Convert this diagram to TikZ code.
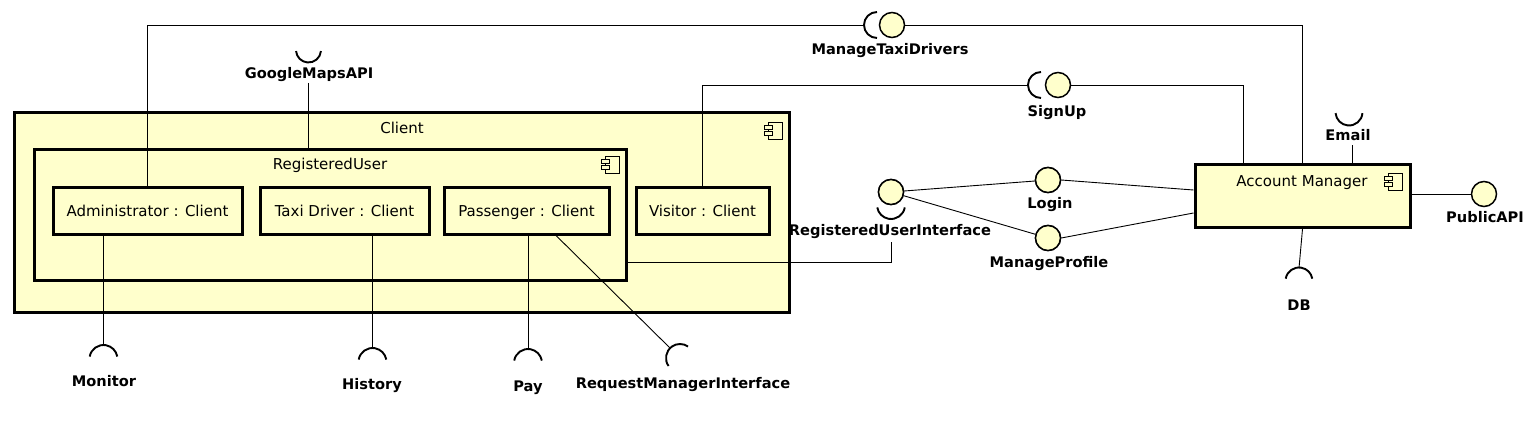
\documentclass[tikz,border=0pt]{standalone}
\usepackage{fontspec}
\setmainfont{DejaVu Sans}
\definecolor{umlfill}{HTML}{FFFFCC}
\tikzset{
  comp/.style={draw, line width=3pt, fill=umlfill, inner sep=0pt},
  ball/.style={circle, draw, line width=1.5pt, fill=umlfill, minimum size=25pt, inner sep=0pt},
  lbl/.style={font=\fontsize{14.6}{16}\selectfont\bfseries, inner sep=0pt, text height=10.7pt, text depth=0pt},
  txt/.style={font=\fontsize{15}{17}\selectfont, inner sep=0pt, text height=11pt, text depth=0pt},
  wire/.style={line width=0.9pt},
  sock/.style={line width=1.9pt},
  compicon/.pic={
    \draw[fill=umlfill, line width=0.9pt] (-14,0) rectangle (0,17);
    \draw[fill=umlfill, line width=0.9pt] (-18,3.5) rectangle (-10,7.5);
    \draw[fill=umlfill, line width=0.9pt] (-18,9.5) rectangle (-10,13.5);
  }
}
\begin{document}
\begin{tikzpicture}[x=1pt, y=-1pt]
\useasboundingbox (0,0) rectangle (1536,433);
% components
\node[comp, minimum width=775, minimum height=199] (client) at (401.5,212.5) {};
\node[txt] (clientL) at (402,128) {Client};
\pic at (782,122) {compicon};
\node[comp, minimum width=592, minimum height=131] (reguser) at (330,214.5) {};
\node[txt] (reguserL) at (330,164) {RegisteredUser};
\pic at (619,156) {compicon};
\node[comp, txt, minimum width=189, minimum height=47] (admin) at (147.5,210.5) {Administrator : Client};
\node[comp, txt, minimum width=169, minimum height=47] (taxi) at (344.5,210.5) {Taxi Driver : Client};
\node[comp, txt, minimum width=165, minimum height=47] (pass) at (526.5,210.5) {Passenger : Client};
\node[comp, txt, minimum width=133, minimum height=47] (visitor) at (702.5,210.5) {Visitor : Client};
\node[comp, minimum width=215, minimum height=63] (acct) at (1302.5,196) {};
\node[txt] (acctL) at (1302,181) {Account Manager};
\pic at (1402,173) {compicon};

% provided interfaces (balls)
\node[ball] (mtd) at (892,25) {};
\node[lbl] (mtdL) at (890,49) {ManageTaxiDrivers};
\node[ball] (su) at (1058,85) {};
\node[lbl] (suL) at (1057,111) {SignUp};
\node[ball] (rui) at (891,192) {};
\node[lbl] (ruiL) at (890,230) {RegisteredUserInterface};
\node[ball] (login) at (1048,180) {};
\node[lbl] (loginL) at (1050,203) {Login};
\node[ball] (mp) at (1048,238) {};
\node[lbl] (mpL) at (1049,262) {ManageProfile};
\node[ball] (pub) at (1484,194) {};
\node[lbl] (pubL) at (1485,217) {PublicAPI};

% required interface labels
\node[lbl] (emailL) at (1348,135) {Email};
\node[lbl] (dbL) at (1299,305) {DB};
\node[lbl] (gmL) at (309,73) {GoogleMapsAPI};
\node[lbl] (monL) at (104,381) {Monitor};
\node[lbl] (histL) at (372,384) {History};
\node[lbl] (payL) at (528,386) {Pay};
\node[lbl] (rmiL) at (683,383) {RequestManagerInterface};

% socket coordinates
\coordinate (mtdS) at (877,25);
\coordinate (mtdB) at (864,25);
\coordinate (suS) at (1041,85);
\coordinate (suB) at (1028,85);
\coordinate (ruiS) at (891,205);
\coordinate (ruiB) at (891,242);
\coordinate (emailS) at (1349,112);
\coordinate (emailB) at (1352,145);
\coordinate (gmS) at (308.5,50);
\coordinate (gmB) at (308,83);
\coordinate (dbS) at (1299,281);
\coordinate (dbB) at (1299,268);
\coordinate (monS) at (103.5,359);
\coordinate (monB) at (103.5,345);
\coordinate (histS) at (372.5,362);
\coordinate (histB) at (372.5,348);
\coordinate (payS) at (528,363);
\coordinate (payB) at (528,349);
\coordinate (rmiS) at (680,358);
\coordinate (rmiB) at (670,348);

% sockets
\draw[sock] (mtdS) ++(90:13) arc[start angle=90, end angle=270, radius=13];
\draw[sock] (suS) ++(90:13) arc[start angle=90, end angle=270, radius=13];
\draw[sock] (ruiS) ++(10:14) arc[start angle=10, end angle=170, radius=14];
\draw[sock] (emailS) ++(5:13.5) arc[start angle=5, end angle=175, radius=13.5];
\draw[sock] (gmS) ++(5:12.5) arc[start angle=5, end angle=175, radius=12.5];
\draw[sock] (dbS) ++(190:13.5) arc[start angle=190, end angle=350, radius=13.5];
\draw[sock] (monS) ++(190:14) arc[start angle=190, end angle=350, radius=14];
\draw[sock] (histS) ++(190:14) arc[start angle=190, end angle=350, radius=14];
\draw[sock] (payS) ++(190:14) arc[start angle=190, end angle=350, radius=14];
\draw[sock] (rmiS) ++(145:14) arc[start angle=145, end angle=305, radius=14];

% connectors
\draw[wire] (admin.north) |- (mtdB);
\draw[wire] (mtd.east) -| (acct.north);
\draw[wire] (visitor.north) |- (suB);
\draw[wire] (su.east) -| ([xshift=50pt]acct.north west);
\draw[wire] ([yshift=-47.5pt]reguser.east) -| (ruiB);
\draw[wire] (rui) -- (login);
\draw[wire] (rui) -- (mp);
\draw[wire] (login.east) -- ([yshift=6pt]acct.west);
\draw[wire] (mp.east) -- ([yshift=-17pt]acct.west);
\draw[wire] ([yshift=2pt]acct.east) -- (pub.west);
\draw[wire] (emailB) -- (emailB |- acct.north);
\draw[wire] (acct.south) -- (dbB);
\draw[wire] (gmB) -- (gmB |- reguser.north);
\draw[wire] (monB) -- (monB |- admin.south);
\draw[wire] (histB) -- (histB |- taxi.south);
\draw[wire] (payB) -- (payB |- pass.south);
\draw[wire] ([xshift=29.5pt]pass.south) -- (rmiB);
% redraw balls on top of wires
\node[ball] at (rui) {};
\node[ball] at (login) {};
\node[ball] at (mp) {};
\end{tikzpicture}
\end{document}
